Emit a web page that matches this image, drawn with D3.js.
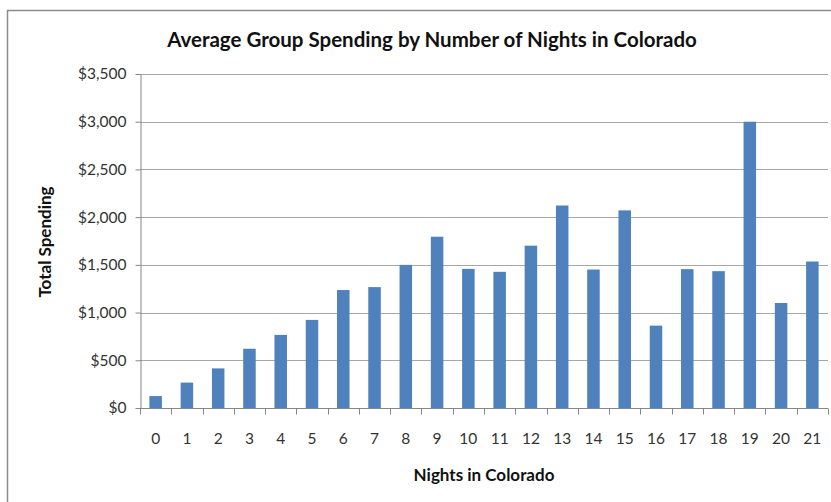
<!DOCTYPE html>
<html>
<head>
<meta charset="utf-8">
<script src="https://cdn.jsdelivr.net/npm/d3@7"></script>
<style>
  body { margin: 0; background: #fff; }
  text { font-family: Lato, "Open Sans", sans-serif; }
</style>
</head>
<body>
<script>
// data
const nights = ["0","1","2","3","4","5","6","7","8","9","10","11","12","13","14","15","16","17","18","19","20","21"];
const spending = [125, 266, 415, 621, 766, 923, 1236, 1267, 1500, 1795, 1458, 1427, 1701, 2122, 1451, 2071, 863, 1455, 1434, 3000, 1100, 1535];
const yTicks = [0, 500, 1000, 1500, 2000, 2500, 3000, 3500];

const W = 831, H = 502;
const margin = {top: 74, right: 3, bottom: 94, left: 140};

const svg = d3.select("body").append("svg")
  .attr("width", W)
  .attr("height", H);

// chart frame
svg.append("rect")
  .attr("x", 7.5).attr("y", 10.5)
  .attr("width", W + 20).attr("height", H + 20)
  .attr("fill", "none")
  .attr("stroke", "#8c8c8c")
  .attr("stroke-width", 1.5);

const x = d3.scaleBand()
  .domain(nights)
  .range([margin.left, W - margin.right])
  .paddingInner(0.6)
  .paddingOuter(0.3);

const y = d3.scaleLinear()
  .domain([0, 3500])
  .range([H - margin.bottom, margin.top]);

// gridlines
svg.append("g")
  .selectAll("line")
  .data(yTicks.slice(1))
  .join("line")
  .attr("x1", margin.left)
  .attr("x2", W - margin.right)
  .attr("y1", d => Math.round(y(d)) + 0.5)
  .attr("y2", d => Math.round(y(d)) + 0.5)
  .attr("stroke", "#a6a6a6")
  .attr("stroke-width", 1.2);

// y axis
const yAxis = svg.append("g")
  .attr("transform", "translate(" + (margin.left + 0.5) + ",0)")
  .call(d3.axisLeft(y).tickValues(yTicks).tickFormat(d => "$" + d3.format(",")(d)).tickSizeInner(5).tickSizeOuter(0).tickPadding(9));
yAxis.select(".domain").attr("stroke", "#868686");
yAxis.selectAll(".tick line").attr("stroke", "#868686");
yAxis.selectAll("text").attr("font-size", 15.5).attr("fill", "#333")
  .style("font-family", "Lato, sans-serif");

// bars
svg.append("g")
  .selectAll("rect")
  .data(spending)
  .join("rect")
  .attr("x", (d, i) => x(nights[i]))
  .attr("width", x.bandwidth())
  .attr("y", d => y(d))
  .attr("height", d => y(0) - y(d))
  .attr("fill", "#4f81bd");

// x axis, ticks between the bands
const xAxisY = Math.round(y(0)) + 0.5;
const edges = d3.range(nights.length + 1).map(i => margin.left + i * (W - margin.left - margin.right) / nights.length);
svg.append("line")
  .attr("x1", margin.left).attr("x2", W - margin.right)
  .attr("y1", xAxisY).attr("y2", xAxisY)
  .attr("stroke", "#868686");
svg.append("g")
  .selectAll("line")
  .data(edges)
  .join("line")
  .attr("x1", d => Math.round(d) + 0.5).attr("x2", d => Math.round(d) + 0.5)
  .attr("y1", xAxisY).attr("y2", xAxisY + 6)
  .attr("stroke", "#868686");
svg.append("g")
  .selectAll("text")
  .data(nights)
  .join("text")
  .attr("x", d => x(d) + x.bandwidth() / 2)
  .attr("y", 444)
  .attr("text-anchor", "middle")
  .attr("font-size", 15.5)
  .attr("fill", "#333")
  .text(d => d);

// titles
svg.append("text")
  .attr("x", 432).attr("y", 47)
  .attr("text-anchor", "middle")
  .attr("font-size", 20.5)
  .attr("font-weight", "bold")
  .attr("fill", "#111")
  .text("Average Group Spending by Number of Nights in Colorado");

svg.append("text")
  .attr("x", 484).attr("y", 481)
  .attr("text-anchor", "middle")
  .attr("font-size", 17)
  .attr("font-weight", "bold")
  .attr("fill", "#111")
  .text("Nights in Colorado");

svg.append("text")
  .attr("transform", "translate(51,242) rotate(-90)")
  .attr("text-anchor", "middle")
  .attr("font-size", 17)
  .attr("font-weight", "bold")
  .attr("fill", "#111")
  .text("Total Spending");
</script>
</body>
</html>
